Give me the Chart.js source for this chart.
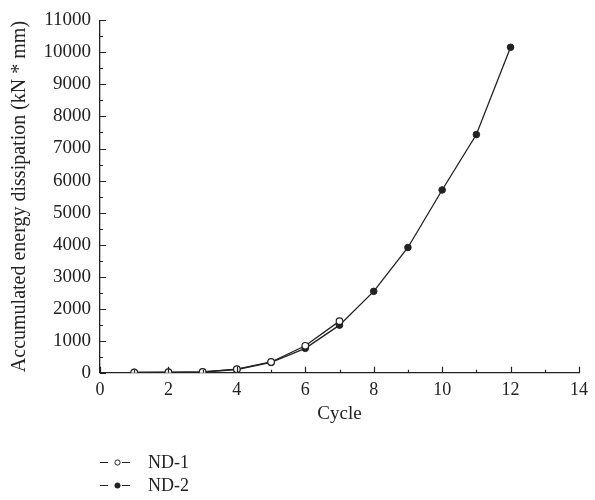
<!DOCTYPE html>
<html>
<head>
<meta charset="utf-8">
<script src="https://cdn.jsdelivr.net/npm/chart.js@4.4.1/dist/chart.umd.min.js"></script>
<style>
  html, body { margin: 0; padding: 0; background: #fff; }
  #wrap { width: 595px; height: 500px; position: relative; }
</style>
</head>
<body>
<div id="wrap"><canvas id="myChart" width="595" height="500"></canvas></div>
<script>
// data
var cycles = [1, 2, 3, 4, 5, 6, 7, 8, 9, 10, 11, 12]
var nd1Cycles = [1, 2, 3, 4, 5, 6, 7]
var nd1Energy = [10, 15, 25, 110, 335, 840, 1610]
var nd2Energy = [8, 12, 22, 100, 320, 760, 1485, 2540, 3910, 5705, 7435, 10160]
var seriesNames = ['ND-1', 'ND-2']

var ink = '#222'
var serif = "'Liberation Serif', 'DejaVu Serif', serif"

function toPoints(xs, ys) {
  return xs.map(function (x, i) { return { x: x, y: ys[i] } })
}

// inward tick marks, major + minor
var tickPlugin = {
  id: 'inTicks',
  afterDraw: function (chart) {
    var ctx = chart.ctx
    var xs = chart.scales.x
    var ys = chart.scales.y
    var area = chart.chartArea
    ctx.save()
    ctx.strokeStyle = ink
    ctx.lineWidth = 1.2
    ctx.beginPath()
    for (var v = 0; v <= 14; v += 1) {
      var px = Math.round(xs.getPixelForValue(v)) + 0.5
      var len = v % 2 === 0 ? 6 : 3
      ctx.moveTo(px, area.bottom)
      ctx.lineTo(px, area.bottom - len)
    }
    for (var w = 0; w <= 11000; w += 500) {
      var py = Math.round(ys.getPixelForValue(w)) + 0.5
      var l2 = w % 1000 === 0 ? 6 : 3
      ctx.moveTo(area.left, py)
      ctx.lineTo(area.left + l2, py)
    }
    ctx.stroke()
    ctx.restore()
  }
}

// legend stacked under the plot: -o- name
var legendPlugin = {
  id: 'stackLegend',
  afterDraw: function (chart) {
    var ctx = chart.ctx
    var x0 = chart.chartArea.left
    var rows = [462, 485]
    ctx.save()
    chart.data.datasets.forEach(function (ds, i) {
      var y = Math.round(rows[i]) + 0.5
      ctx.strokeStyle = ink
      ctx.lineWidth = 1.2
      ctx.beginPath()
      ctx.moveTo(x0, y); ctx.lineTo(x0 + 8, y)
      ctx.moveTo(x0 + 22, y); ctx.lineTo(x0 + 30, y)
      ctx.stroke()
      ctx.beginPath()
      ctx.arc(x0 + 17.5, y, 2.6, 0, Math.PI * 2)
      ctx.fillStyle = ds.pointBackgroundColor
      ctx.fill()
      ctx.lineWidth = 1
      ctx.stroke()
      ctx.fillStyle = ink
      ctx.font = '18px ' + serif
      ctx.textBaseline = 'middle'
      ctx.fillText(ds.label, x0 + 48, y + 1)
    })
    ctx.restore()
  }
}

var ctx = document.getElementById('myChart').getContext('2d')
var myChart = new Chart(ctx, {
  type: 'line',
  data: {
    datasets: [{
      label: seriesNames[0],
      data: toPoints(nd1Cycles, nd1Energy),
      borderColor: ink,
      borderWidth: 1.3,
      pointRadius: 3.3,
      pointBorderWidth: 1.2,
      pointBorderColor: ink,
      pointBackgroundColor: '#fff',
      tension: 0,
      order: 1
    }, {
      label: seriesNames[1],
      data: toPoints(cycles, nd2Energy),
      borderColor: ink,
      borderWidth: 1.3,
      pointRadius: 3.3,
      pointBorderWidth: 1,
      pointBorderColor: ink,
      pointBackgroundColor: ink,
      tension: 0,
      order: 2
    }]
  },
  options: {
    responsive: false,
    animation: false,
    layout: { padding: { top: 19, right: 11, bottom: 0, left: 0 } },
    plugins: {
      legend: { display: false },
      tooltip: { enabled: false }
    },
    scales: {
      x: {
        type: 'linear',
        min: 0,
        max: 14,
        grid: { display: false, drawTicks: false },
        border: { display: true, color: ink, width: 1.3 },
        ticks: { stepSize: 2, color: ink, padding: 7, font: { family: serif, size: 18 } },
        title: { display: true, text: 'Cycle', color: ink, font: { family: serif, size: 19 }, padding: { top: 0, bottom: 75 } },
        afterFit: function (scale) { scale.height = 127.3 }
      },
      y: {
        min: 0,
        max: 11000,
        grid: { display: false, drawTicks: false },
        border: { display: true, color: ink, width: 1.3 },
        ticks: {
          stepSize: 1000, color: ink, padding: 9, font: { family: serif, size: 19 },
          callback: function (value) { return String(value) }
        },
        title: { display: true, text: 'Accumulated energy dissipation (kN * mm)', color: ink, font: { family: serif, size: 20 }, padding: { top: 8, bottom: 0 } },
        afterFit: function (scale) { scale.width = 100 }
      }
    }
  },
  plugins: [tickPlugin, legendPlugin]
})
</script>
</body>
</html>
